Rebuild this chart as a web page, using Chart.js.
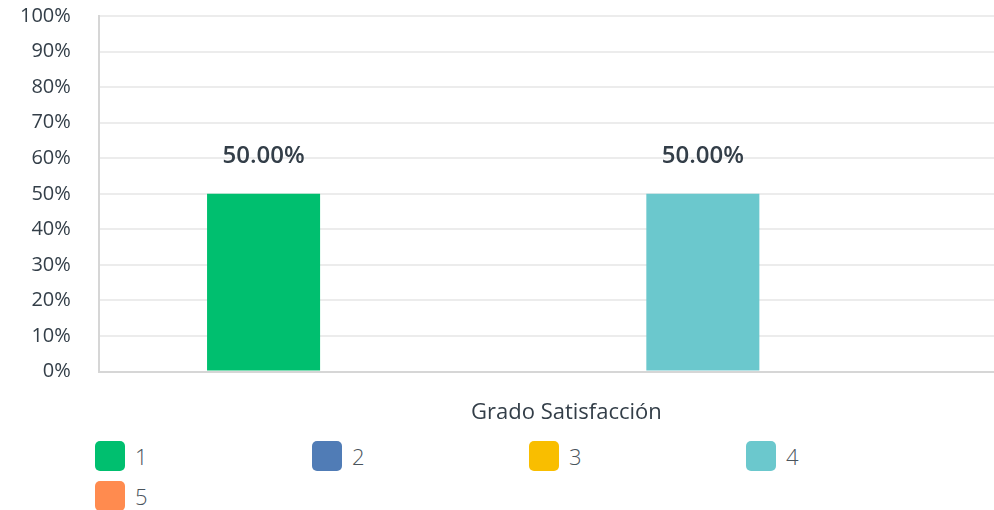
<!DOCTYPE html>
<html>
<head>
<meta charset="utf-8">
<script src="https://cdn.jsdelivr.net/npm/chart.js@4"></script>
<style>
    html, body { margin: 0; padding: 0; background: #fff; overflow: hidden; width: 994px; height: 510px; }
    .wrap { position: absolute; left: 0; top: 0; width: 1014px; height: 430px; }
    .legend { position: absolute; left: 95px; top: 441px; display: grid; grid-template-columns: repeat(4, 217px); row-gap: 10px; }
    .legend-item { display: flex; align-items: center; height: 30px; font-family: "Open Sans", sans-serif; font-size: 22px; font-weight: 300; color: #4a545c; }
    .legend-box { width: 30px; height: 30px; border-radius: 5px; margin-right: 10px; }
</style>
</head>
<body>
<div class="wrap"><canvas id="satChart" width="1014" height="430"></canvas></div>
<div class="legend" id="legend"></div>
<script>
const categories = ['Grado Satisfacción'];
const seriesNames = ['1', '2', '3', '4', '5'];
const seriesValues = [[50], [0], [0], [50], [0]];
const seriesColors = ['#00bf6f', '#507cb6', '#f9be00', '#6bc8cd', '#ff8b4f'];
const yTicks = [0, 10, 20, 30, 40, 50, 60, 70, 80, 90, 100];

const textColor = '#333e48';

// value labels above the bars
const barLabels = {
    id: 'barLabels',
    afterDatasetsDraw(chart) {
        const ctx = chart.ctx;
        ctx.save();
        ctx.font = '600 24px "Open Sans", sans-serif';
        ctx.fillStyle = textColor;
        ctx.textAlign = 'center';
        ctx.textBaseline = 'middle';
        chart.data.datasets.forEach((ds, i) => {
            chart.getDatasetMeta(i).data.forEach((bar, j) => {
                if (ds.data[j] > 0) {
                    ctx.fillText(ds.data[j].toFixed(2) + '%', bar.x, bar.y - 38);
                }
            });
        });
        ctx.restore();
    }
};

const ctx = document.getElementById('satChart').getContext('2d');

const chart = new Chart(ctx, {
    type: 'bar',
    data: {
        labels: categories,
        datasets: seriesNames.map((name, i) => ({
            label: name,
            data: seriesValues[i],
            backgroundColor: seriesColors[i],
            borderWidth: 0,
            categoryPercentage: 0.8,
            barPercentage: 0.772
        }))
    },
    options: {
        responsive: false,
        animation: false,
        layout: { padding: { top: 0, right: 0, bottom: 0, left: 16 } },
        plugins: {
            legend: { display: false },
            tooltip: { enabled: false }
        },
        scales: {
            x: {
                grid: { display: false, tickLength: 24 },
                border: { display: true, color: '#d6d6d6', width: 2 },
                ticks: {
                    color: textColor,
                    padding: 4,
                    labelOffset: 10,
                    font: { family: '"Open Sans", sans-serif', size: 22 }
                }
            },
            y: {
                min: 0,
                max: 100,
                afterBuildTicks: axis => { axis.ticks = yTicks.map(v => ({ value: v })); },
                grid: { color: '#ececec', lineWidth: 2, tickLength: 24, tickColor: 'rgba(0,0,0,0)' },
                border: { display: true, color: '#d6d6d6', width: 2 },
                ticks: {
                    color: textColor,
                    padding: 4,
                    font: { family: '"Open Sans", sans-serif', size: 20 },
                    callback: v => v + '%'
                }
            }
        }
    },
    plugins: [barLabels]
});

// html legend built from the datasets
const legend = document.getElementById('legend');
chart.data.datasets.forEach(ds => {
    const item = document.createElement('div');
    item.className = 'legend-item';
    item.innerHTML = `<span class="legend-box" style="background:${ds.backgroundColor}"></span><span>${ds.label}</span>`;
    legend.appendChild(item);
});
</script>
</body>
</html>
